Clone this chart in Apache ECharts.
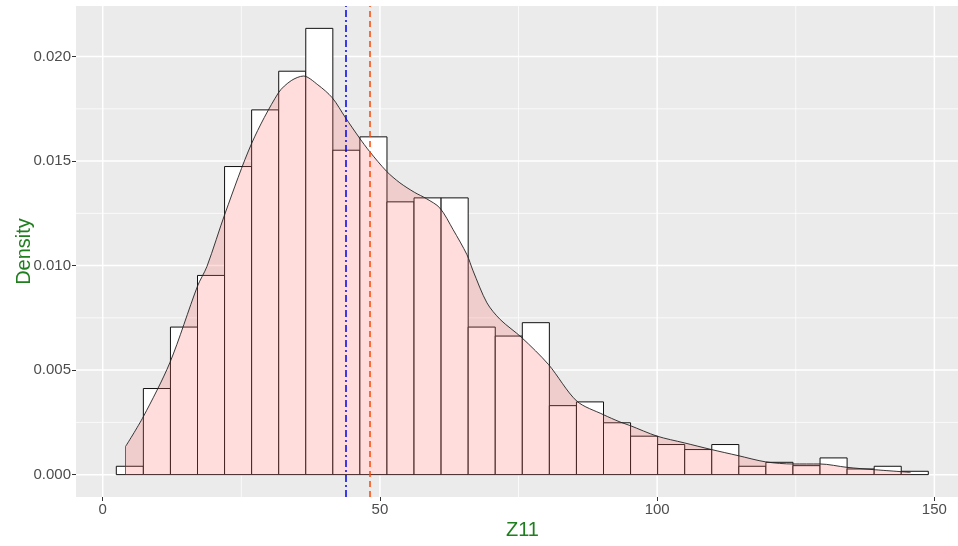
<!DOCTYPE html>
<html>
<head>
<meta charset="utf-8">
<script src="https://cdn.jsdelivr.net/npm/echarts@6/dist/echarts.min.js"></script>
<style>
html,body{margin:0;padding:0;background:#fff;}
#chart{width:958px;height:546px;}
</style>
</head>
<body>
<div id="chart"></div>
<script>
// Histogram bins (30 bins)
const binStart = 2.45;
const binWidth = 4.882;
const binDensity = [0.0004, 0.00412, 0.00706, 0.00953, 0.01474, 0.01745, 0.0193, 0.02135, 0.01552, 0.01616,
  0.01305, 0.01324, 0.01324, 0.00706, 0.00663, 0.00727, 0.0033, 0.00348, 0.00248, 0.00184,
  0.00144, 0.0012, 0.00144, 0.0004, 0.00059, 0.00043, 0.0008, 0.00027, 0.0004, 0.00016];

// Kernel density curve
const densX = [4.15, 7.3, 12.1, 17.1, 18.8, 22.1, 26.9, 31.7, 34.0, 36.2, 38.8, 41.4, 43.8, 46.3, 48.1,
  51.2, 53.6, 56.2, 58.4, 60.8, 63.2, 65.7, 66.8, 69.3, 71.7, 75.6, 80.4, 85.5, 90.3, 93.3,
  95.1, 100, 104.9, 109.8, 114.6, 119.6, 124.5, 129.4, 134.2, 139.0, 145.7];
const densY = [0.00136, 0.00276, 0.00535, 0.00902, 0.00996, 0.01252, 0.01587, 0.01827, 0.01885, 0.01907, 0.01865, 0.01803, 0.01707, 0.01611, 0.01547,
  0.01451, 0.01396, 0.01351, 0.0132, 0.01276, 0.01172, 0.01052, 0.00975, 0.00822, 0.00742, 0.00655, 0.00527, 0.00352, 0.00287, 0.00252,
  0.00235, 0.00184, 0.00152, 0.0012, 0.00091, 0.00061, 0.00051, 0.00051, 0.00035, 0.00024, 0.00011];

// Reference lines
const medianValue = 43.8;
const meanValue = 48.1;

// Ticks
const xTicks = [0, 50, 100, 150];
const xMinor = [25, 75, 125];
const yTicks = [0, 0.005, 0.01, 0.015, 0.02];
const yMinor = [0.0025, 0.0075, 0.0125, 0.0175];

const histData = binDensity.map((d, i) => [binStart + i * binWidth, binStart + (i + 1) * binWidth, d]);
const densData = densX.map((x, i) => [x, densY[i]]);

// grid line items: [axis(0=x,1=y), value, major(1)/minor(0)]
const gridData = [];
xMinor.forEach(v => gridData.push([0, v, 0]));
yMinor.forEach(v => gridData.push([1, v, 0]));
xTicks.forEach(v => gridData.push([0, v, 1]));
yTicks.forEach(v => gridData.push([1, v, 1]));

const font = 'Liberation Sans, Arial, sans-serif';
const chart = echarts.init(document.getElementById('chart'), null, {renderer: 'canvas'});
chart.setOption({
  animation: false,
  backgroundColor: '#fff',
  grid: {left: 76, top: 6, bottom: 49, right: -11, show: true, backgroundColor: '#EBEBEB', borderWidth: 0,
    outerBoundsMode: 'none', containLabel: false},
  xAxis: {
    type: 'value', min: -4.82, max: 156.25,
    axisLine: {show: false, onZero: false},
    splitLine: {show: false},
    axisTick: {show: true, customValues: xTicks, length: 4, lineStyle: {color: '#333', width: 1}},
    axisLabel: {customValues: xTicks, color: '#4D4D4D', fontSize: 15, fontFamily: font, margin: 5},
    name: 'Z11', nameLocation: 'middle', nameGap: 23, nameMoveOverlap: false,
    nameTextStyle: {color: '#1F7F1F', fontSize: 20, fontFamily: font}
  },
  yAxis: {
    type: 'value', min: -0.00107, max: 0.02242,
    axisLine: {show: false, onZero: false},
    splitLine: {show: false},
    axisTick: {show: true, customValues: yTicks, length: 4, lineStyle: {color: '#333', width: 1}},
    axisLabel: {customValues: yTicks, color: '#4D4D4D', fontSize: 15, fontFamily: font, margin: 5,
      formatter: v => v.toFixed(3)},
    name: 'Density', nameLocation: 'middle', nameGap: 42, nameRotate: 90, nameMoveOverlap: false,
    nameTextStyle: {color: '#1F7F1F', fontSize: 20, fontFamily: font}
  },
  series: [
    {
      type: 'custom', z: 1, silent: true, data: gridData, clip: false,
      renderItem: function (params, api) {
        const cs = params.coordSys;
        const axis = api.value(0), v = api.value(1), major = api.value(2);
        const w = major ? 1.5 : 0.75;
        let shape;
        if (axis === 0) {
          const px = api.coord([v, 0])[0];
          shape = {x1: px, y1: cs.y, x2: px, y2: cs.y + cs.height};
        } else {
          const py = api.coord([0, v])[1];
          shape = {x1: cs.x, y1: py, x2: cs.x + cs.width, y2: py};
        }
        return {type: 'line', shape: shape, style: {stroke: '#FFFFFF', lineWidth: w}};
      }
    },
    {
      type: 'custom', z: 2, silent: true, data: histData, clip: true,
      renderItem: function (params, api) {
        const p0 = api.coord([api.value(0), api.value(2)]);
        const p1 = api.coord([api.value(1), 0]);
        return {type: 'rect', shape: {x: p0[0], y: p0[1], width: p1[0] - p0[0], height: p1[1] - p0[1]},
          style: {fill: '#fff', stroke: '#111', lineWidth: 1}};
      }
    },
    {
      type: 'line', z: 3, silent: true, data: densData, smooth: 0.3, showSymbol: false,
      lineStyle: {color: '#222', width: 0.9},
      areaStyle: {color: '#FF6666', opacity: 0.22, origin: 0},
      markLine: {silent: true, symbol: ['none', 'none'], label: {show: false},
        emphasis: {disabled: true},
        data: [[{coord: [densX[0], 0]}, {coord: [densX[0], densY[0]], lineStyle: {color: '#444', width: 0.8, type: 'solid'}}]]}
    },
    {
      type: 'line', data: [], z: 4, silent: true,
      markLine: {silent: true, symbol: ['none', 'none'], label: {show: false},
        emphasis: {disabled: true},
        data: [
          {xAxis: medianValue, lineStyle: {color: '#0000EE', width: 1.5, type: [7, 3, 2, 3]}},
          {xAxis: meanValue, lineStyle: {color: '#FF4500', width: 1.5, type: [6, 4]}}
        ]}
    }
  ]
});
</script>
</body>
</html>
